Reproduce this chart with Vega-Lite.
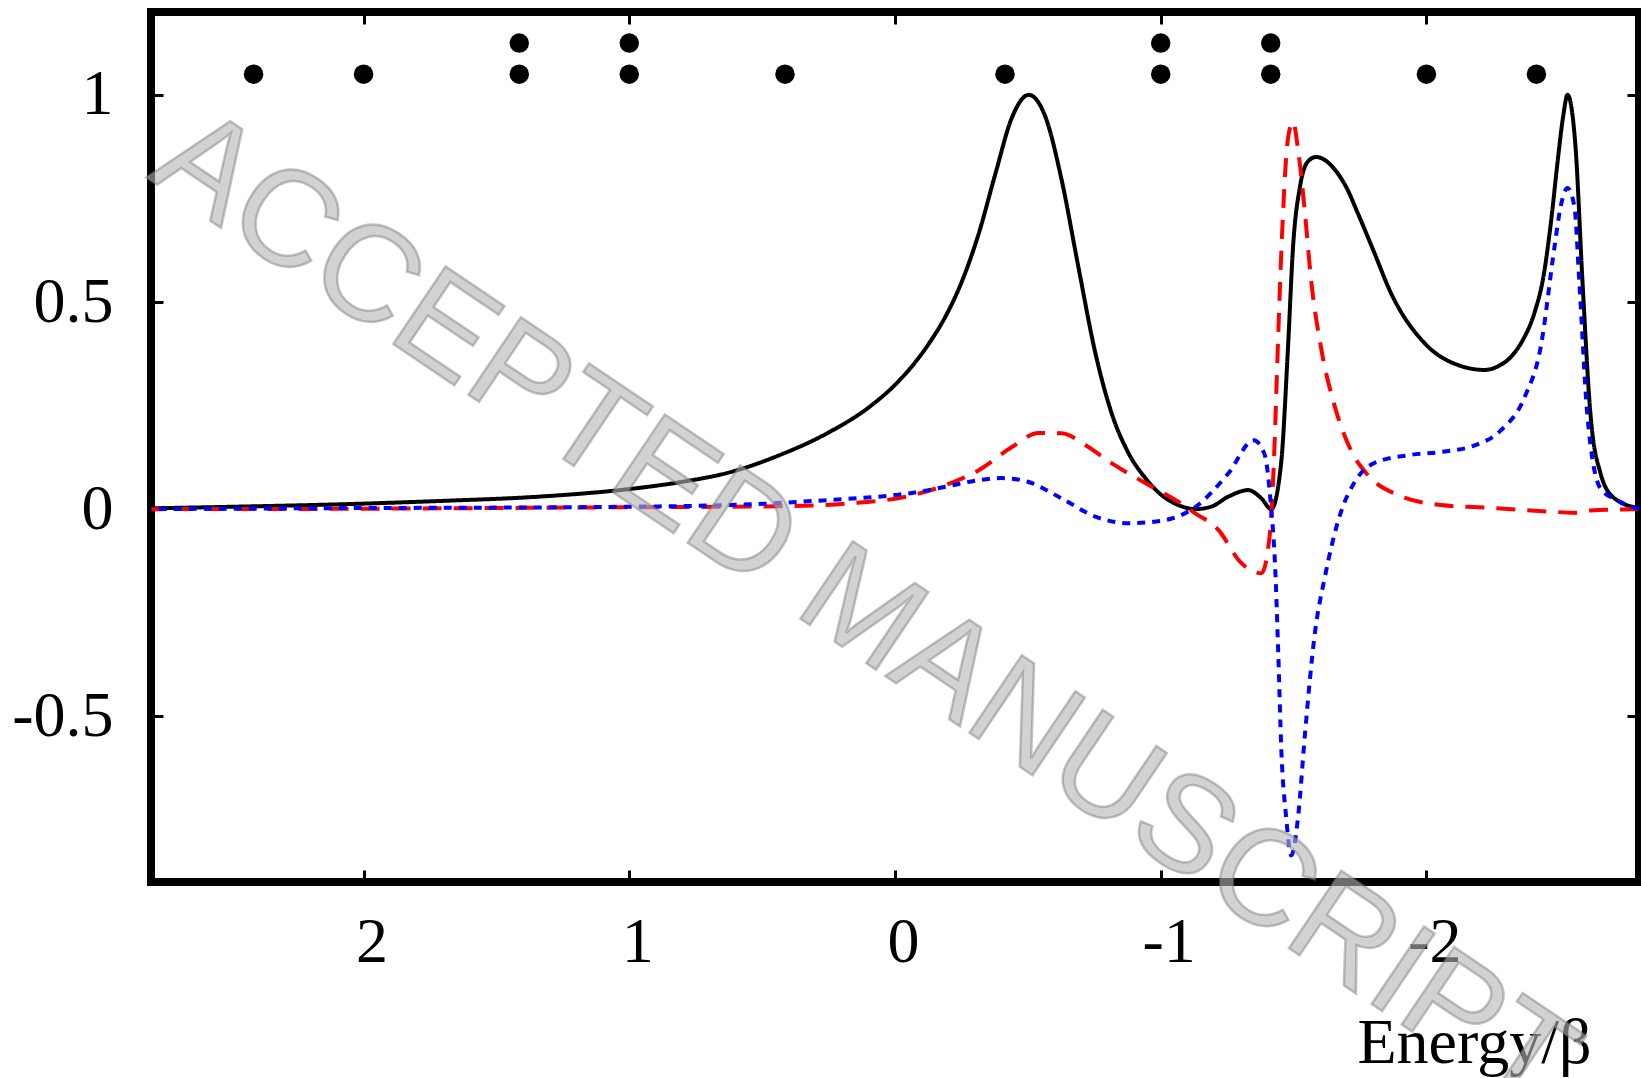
{
  "$schema": "https://vega.github.io/schema/vega-lite/v6.json",
  "autosize": {"type": "none"},
  "width": 1488,
  "height": 870,
  "padding": {"left": 151, "top": 12, "right": 2, "bottom": 196},
  "background": "white",
  "config": {
    "view": {"stroke": "black", "strokeWidth": 8},
    "axis": {
      "grid": false,
      "domain": false,
      "ticks": true,
      "tickColor": "black",
      "tickWidth": 3,
      "tickSize": -12,
      "labelFont": "Liberation Serif",
      "labelFontSize": 64,
      "labelColor": "black",
      "titleFont": "Liberation Serif",
      "titleFontSize": 64,
      "titleFontWeight": "normal",
      "titleColor": "black"
    }
  },
  "datasets": {
    "curves": [
      {"E": 2.8, "v": 0.002, "s": "total"},
      {"E": 2.4, "v": 0.007, "s": "total"},
      {"E": 2.07, "v": 0.012, "s": "total"},
      {"E": 1.7, "v": 0.02, "s": "total"},
      {"E": 1.344, "v": 0.03, "s": "total"},
      {"E": 0.98, "v": 0.05, "s": "total"},
      {"E": 0.8, "v": 0.066, "s": "total"},
      {"E": 0.616, "v": 0.09, "s": "total"},
      {"E": 0.436, "v": 0.13, "s": "total"},
      {"E": 0.25, "v": 0.185, "s": "total"},
      {"E": 0.1, "v": 0.245, "s": "total"},
      {"E": 0.0, "v": 0.3, "s": "total"},
      {"E": -0.064, "v": 0.345, "s": "total"},
      {"E": -0.128, "v": 0.4, "s": "total"},
      {"E": -0.19, "v": 0.465, "s": "total"},
      {"E": -0.252, "v": 0.55, "s": "total"},
      {"E": -0.315, "v": 0.665, "s": "total"},
      {"E": -0.378, "v": 0.81, "s": "total"},
      {"E": -0.44, "v": 0.945, "s": "total"},
      {"E": -0.503, "v": 1.0, "s": "total"},
      {"E": -0.566, "v": 0.947, "s": "total"},
      {"E": -0.627, "v": 0.795, "s": "total"},
      {"E": -0.69, "v": 0.585, "s": "total"},
      {"E": -0.754, "v": 0.377, "s": "total"},
      {"E": -0.815, "v": 0.232, "s": "total"},
      {"E": -0.879, "v": 0.135, "s": "total"},
      {"E": -0.942, "v": 0.075, "s": "total"},
      {"E": -1.003, "v": 0.034, "s": "total"},
      {"E": -1.066, "v": 0.01, "s": "total"},
      {"E": -1.13, "v": 0.0, "s": "total"},
      {"E": -1.19, "v": 0.006, "s": "total"},
      {"E": -1.254, "v": 0.03, "s": "total"},
      {"E": -1.329, "v": 0.046, "s": "total"},
      {"E": -1.379, "v": 0.026, "s": "total"},
      {"E": -1.416, "v": 0.0, "s": "total"},
      {"E": -1.453, "v": 0.11, "s": "total"},
      {"E": -1.479, "v": 0.39, "s": "total"},
      {"E": -1.498, "v": 0.633, "s": "total"},
      {"E": -1.524, "v": 0.778, "s": "total"},
      {"E": -1.555, "v": 0.84, "s": "total"},
      {"E": -1.585, "v": 0.85, "s": "total"},
      {"E": -1.656, "v": 0.819, "s": "total"},
      {"E": -1.7, "v": 0.775, "s": "total"},
      {"E": -1.742, "v": 0.714, "s": "total"},
      {"E": -1.8, "v": 0.625, "s": "total"},
      {"E": -1.867, "v": 0.521, "s": "total"},
      {"E": -1.994, "v": 0.4, "s": "total"},
      {"E": -2.118, "v": 0.348, "s": "total"},
      {"E": -2.219, "v": 0.336, "s": "total"},
      {"E": -2.27, "v": 0.345, "s": "total"},
      {"E": -2.317, "v": 0.367, "s": "total"},
      {"E": -2.36, "v": 0.405, "s": "total"},
      {"E": -2.407, "v": 0.475, "s": "total"},
      {"E": -2.44, "v": 0.56, "s": "total"},
      {"E": -2.47, "v": 0.7, "s": "total"},
      {"E": -2.493, "v": 0.835, "s": "total"},
      {"E": -2.515, "v": 0.95, "s": "total"},
      {"E": -2.531, "v": 1.0, "s": "total"},
      {"E": -2.561, "v": 0.875, "s": "total"},
      {"E": -2.587, "v": 0.553, "s": "total"},
      {"E": -2.617, "v": 0.232, "s": "total"},
      {"E": -2.655, "v": 0.087, "s": "total"},
      {"E": -2.706, "v": 0.027, "s": "total"},
      {"E": -2.8, "v": 0.002, "s": "total"},

      {"E": 2.8, "v": 0.0, "s": "real"},
      {"E": 2.0, "v": 0.001, "s": "real"},
      {"E": 1.16, "v": 0.004, "s": "real"},
      {"E": 0.436, "v": 0.007, "s": "real"},
      {"E": 0.17, "v": 0.014, "s": "real"},
      {"E": -0.04, "v": 0.03, "s": "real"},
      {"E": -0.19, "v": 0.058, "s": "real"},
      {"E": -0.315, "v": 0.094, "s": "real"},
      {"E": -0.44, "v": 0.15, "s": "real"},
      {"E": -0.54, "v": 0.184, "s": "real"},
      {"E": -0.627, "v": 0.183, "s": "real"},
      {"E": -0.716, "v": 0.155, "s": "real"},
      {"E": -0.815, "v": 0.111, "s": "real"},
      {"E": -0.942, "v": 0.063, "s": "real"},
      {"E": -1.066, "v": 0.018, "s": "real"},
      {"E": -1.13, "v": -0.01, "s": "real"},
      {"E": -1.217, "v": -0.05, "s": "real"},
      {"E": -1.3, "v": -0.128, "s": "real"},
      {"E": -1.379, "v": -0.155, "s": "real"},
      {"E": -1.411, "v": -0.058, "s": "real"},
      {"E": -1.425, "v": 0.1, "s": "real"},
      {"E": -1.435, "v": 0.28, "s": "real"},
      {"E": -1.445, "v": 0.47, "s": "real"},
      {"E": -1.46, "v": 0.71, "s": "real"},
      {"E": -1.478, "v": 0.89, "s": "real"},
      {"E": -1.498, "v": 0.935, "s": "real"},
      {"E": -1.517, "v": 0.867, "s": "real"},
      {"E": -1.543, "v": 0.714, "s": "real"},
      {"E": -1.566, "v": 0.553, "s": "real"},
      {"E": -1.603, "v": 0.391, "s": "real"},
      {"E": -1.656, "v": 0.246, "s": "real"},
      {"E": -1.716, "v": 0.142, "s": "real"},
      {"E": -1.78, "v": 0.082, "s": "real"},
      {"E": -1.893, "v": 0.034, "s": "real"},
      {"E": -2.055, "v": 0.01, "s": "real"},
      {"E": -2.24, "v": 0.003, "s": "real"},
      {"E": -2.467, "v": -0.006, "s": "real"},
      {"E": -2.557, "v": -0.009, "s": "real"},
      {"E": -2.617, "v": -0.003, "s": "real"},
      {"E": -2.8, "v": 0.0, "s": "real"},

      {"E": 2.8, "v": 0.0, "s": "imag"},
      {"E": 2.26, "v": 0.002, "s": "imag"},
      {"E": 1.16, "v": 0.005, "s": "imag"},
      {"E": 0.616, "v": 0.01, "s": "imag"},
      {"E": 0.25, "v": 0.022, "s": "imag"},
      {"E": 0.0, "v": 0.034, "s": "imag"},
      {"E": -0.064, "v": 0.039, "s": "imag"},
      {"E": -0.19, "v": 0.054, "s": "imag"},
      {"E": -0.315, "v": 0.07, "s": "imag"},
      {"E": -0.4, "v": 0.075, "s": "imag"},
      {"E": -0.5, "v": 0.066, "s": "imag"},
      {"E": -0.627, "v": 0.026, "s": "imag"},
      {"E": -0.754, "v": -0.018, "s": "imag"},
      {"E": -0.879, "v": -0.034, "s": "imag"},
      {"E": -1.003, "v": -0.028, "s": "imag"},
      {"E": -1.13, "v": 0.005, "s": "imag"},
      {"E": -1.254, "v": 0.086, "s": "imag"},
      {"E": -1.35, "v": 0.166, "s": "imag"},
      {"E": -1.39, "v": 0.134, "s": "imag"},
      {"E": -1.416, "v": 0.0, "s": "imag"},
      {"E": -1.43, "v": -0.13, "s": "imag"},
      {"E": -1.442, "v": -0.34, "s": "imag"},
      {"E": -1.454, "v": -0.582, "s": "imag"},
      {"E": -1.472, "v": -0.743, "s": "imag"},
      {"E": -1.491, "v": -0.836, "s": "imag"},
      {"E": -1.517, "v": -0.743, "s": "imag"},
      {"E": -1.543, "v": -0.542, "s": "imag"},
      {"E": -1.58, "v": -0.3, "s": "imag"},
      {"E": -1.618, "v": -0.163, "s": "imag"},
      {"E": -1.667, "v": -0.03, "s": "imag"},
      {"E": -1.742, "v": 0.077, "s": "imag"},
      {"E": -1.806, "v": 0.112, "s": "imag"},
      {"E": -1.93, "v": 0.13, "s": "imag"},
      {"E": -2.055, "v": 0.138, "s": "imag"},
      {"E": -2.182, "v": 0.154, "s": "imag"},
      {"E": -2.28, "v": 0.19, "s": "imag"},
      {"E": -2.37, "v": 0.271, "s": "imag"},
      {"E": -2.43, "v": 0.391, "s": "imag"},
      {"E": -2.482, "v": 0.633, "s": "imag"},
      {"E": -2.505, "v": 0.73, "s": "imag"},
      {"E": -2.531, "v": 0.775, "s": "imag"},
      {"E": -2.557, "v": 0.73, "s": "imag"},
      {"E": -2.575, "v": 0.553, "s": "imag"},
      {"E": -2.605, "v": 0.232, "s": "imag"},
      {"E": -2.655, "v": 0.05, "s": "imag"},
      {"E": -2.717, "v": 0.022, "s": "imag"},
      {"E": -2.8, "v": 0.0, "s": "imag"}
    ],
    "levels": [
      {"E": 2.414, "y": 1.05},
      {"E": 2.0, "y": 1.05},
      {"E": 1.414, "y": 1.05},
      {"E": 1.414, "y": 1.125},
      {"E": 1.0, "y": 1.05},
      {"E": 1.0, "y": 1.125},
      {"E": 0.414, "y": 1.05},
      {"E": -0.414, "y": 1.05},
      {"E": -1.0, "y": 1.05},
      {"E": -1.0, "y": 1.125},
      {"E": -1.414, "y": 1.05},
      {"E": -1.414, "y": 1.125},
      {"E": -2.0, "y": 1.05},
      {"E": -2.414, "y": 1.05}
    ],
    "mark": [
      {"E": 0.116, "y": -0.249, "t": "ACCEPTED MANUSCRIPT"}
    ]
  },
  "layer": [
    {
      "mark": {"type": "rule", "color": "black", "strokeWidth": 1.2, "strokeDash": [2, 4]},
      "encoding": {
        "y": {"datum": 0, "type": "quantitative", "scale": {"domain": [-0.9, 1.2], "nice": false, "zero": false}, "axis": null}
      }
    },
    {
      "mark": {"type": "rule", "color": "black", "strokeWidth": 1.2, "strokeDash": [2, 4]},
      "encoding": {
        "x": {"datum": 0, "type": "quantitative", "scale": {"domain": [-2.8, 2.8], "reverse": true, "nice": false, "zero": false}, "axis": null}
      }
    },
    {
      "data": {"name": "curves"},
      "mark": {"type": "line", "strokeWidth": 4, "interpolate": "monotone", "clip": true},
      "encoding": {
        "x": {"field": "E", "type": "quantitative", "scale": {"domain": [-2.8, 2.8], "reverse": true, "nice": false, "zero": false},
          "axis": {"orient": "bottom", "values": [-2, -1, 0, 1, 2], "labelExpr": "'' + datum.value", "labelPadding": 40, "labelOffset": 8, "title": "Energy/β", "titleAlign": "right", "titleBaseline": "alphabetic", "titleX": 1440, "titleY": 180, "titleAnchor": null}},
        "y": {"field": "v", "type": "quantitative", "scale": {"domain": [-0.9, 1.2], "nice": false, "zero": false},
          "axis": {"orient": "left", "values": [-0.5, 0, 0.5, 1], "labelExpr": "'' + datum.value", "labelPadding": 50, "title": null}},
        "color": {"field": "s", "type": "nominal", "scale": {"domain": ["total", "real", "imag"], "range": ["#000000", "#ff0000", "#0000ff"]}, "legend": null},
        "strokeDash": {"field": "s", "type": "nominal", "scale": {"domain": ["total", "real", "imag"], "range": [[1, 0], [19, 12], [8, 7]]}, "legend": null},
        "order": {"field": "E", "type": "quantitative"}
      }
    },
    {
      "data": {"name": "levels"},
      "mark": {"type": "point", "filled": true, "color": "black", "opacity": 1, "size": 380},
      "encoding": {
        "x": {"field": "E", "type": "quantitative", "scale": {"domain": [-2.8, 2.8], "reverse": true, "nice": false, "zero": false},
          "axis": {"orient": "top", "values": [-2, -1, 0, 1, 2], "labels": false, "title": null}},
        "y": {"field": "y", "type": "quantitative", "scale": {"domain": [-0.9, 1.2], "nice": false, "zero": false},
          "axis": {"orient": "right", "values": [-0.5, 0, 0.5, 1], "labels": false, "title": null}}
      }
    },
    {
      "data": {"name": "mark"},
      "mark": {"type": "text", "angle": 34, "align": "center", "baseline": "middle", "font": "Liberation Sans", "fontSize": 136, "fill": "#b4b4b4", "fillOpacity": 0.6, "stroke": "#7a7a7a", "strokeWidth": 2.5, "strokeOpacity": 0.45},
      "encoding": {
        "x": {"field": "E", "type": "quantitative", "scale": {"domain": [-2.8, 2.8], "reverse": true, "nice": false, "zero": false}, "axis": null},
        "y": {"field": "y", "type": "quantitative", "scale": {"domain": [-0.9, 1.2], "nice": false, "zero": false}, "axis": null},
        "text": {"field": "t", "type": "nominal"}
      }
    }
  ],
  "resolve": {"axis": {"x": "independent", "y": "independent"}}
}
